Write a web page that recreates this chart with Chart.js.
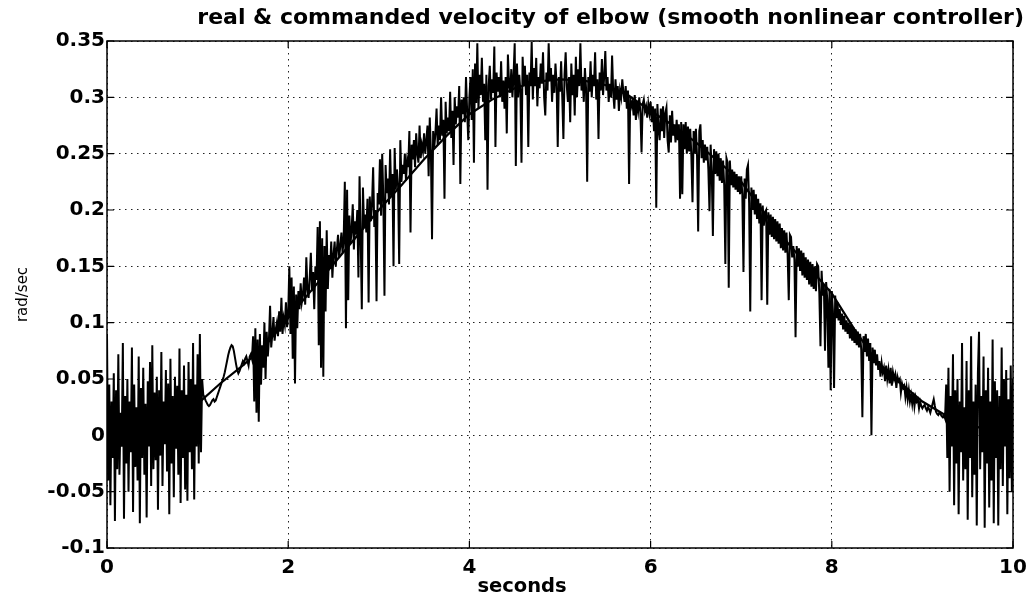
<!DOCTYPE html>
<html>
<head>
<meta charset="utf-8">
<title>real &amp; commanded velocity of elbow</title>
<script src="https://cdn.jsdelivr.net/npm/chart.js@4.4.1/dist/chart.umd.min.js"></script>
<style>
    html, body { margin: 0; padding: 0; background: #fff; }
    #velocityChart { display: block; }
</style>
</head>
<body>
<canvas id="velocityChart" width="1032" height="601"></canvas>
<script>
// commanded velocity (smooth curve), one value every 0.25 s
const cmdStep = 0.25;
const commanded = [
    0.000, 0.002, 0.006, 0.014, 0.028, 0.046, 0.062, 0.080, 0.104, 0.128,
    0.152, 0.176, 0.200, 0.222, 0.245, 0.266, 0.285, 0.298, 0.308, 0.314,
    0.316, 0.315, 0.311, 0.302, 0.288, 0.275, 0.260, 0.243, 0.225, 0.198,
    0.172, 0.149, 0.126, 0.094, 0.065, 0.047, 0.030, 0.018, 0.010, 0.004,
    0.000
];

// measured velocity of the elbow, one value every 0.0125 s (40 per block = 0.5 s)
const realStep = 0.0125;
const real = [
    // 0.0 - 0.5
    0.090, -0.040, 0.045, -0.062, 0.030, -0.020, 0.055, -0.076, 0.040, -0.030,
    0.072, -0.035, 0.020, -0.010, 0.082, -0.074, 0.035, -0.025, 0.050, -0.050,
    0.030, -0.015, 0.078, -0.068, 0.045, -0.028, 0.025, -0.040, 0.070, -0.078,
    0.042, -0.020, 0.060, -0.035, 0.028, -0.073, 0.048, -0.010, 0.065, -0.045,
    // 0.5 - 1.0
    0.080, -0.030, 0.038, -0.022, 0.052, -0.066, 0.040, -0.018, 0.074, -0.045,
    0.030, -0.008, 0.058, -0.032, 0.046, -0.070, 0.068, -0.025, 0.035, -0.055,
    0.052, -0.012, 0.044, -0.035, 0.077, -0.060, 0.040, -0.020, 0.062, -0.048,
    0.036, -0.058, 0.065, -0.015, 0.050, -0.030, 0.082, -0.057, 0.045, -0.010,
    // 1.0 - 1.5
    0.072, -0.025, 0.090, -0.015, 0.050, 0.036, 0.034, 0.031, 0.029, 0.027,
    0.026, 0.027, 0.029, 0.031, 0.032, 0.030, 0.031, 0.034, 0.037, 0.040,
    0.043, 0.046, 0.049, 0.052, 0.056, 0.061, 0.066, 0.071, 0.075, 0.078,
    0.080, 0.079, 0.075, 0.069, 0.063, 0.058, 0.055, 0.057, 0.060, 0.063,
    // 1.5 - 2.0
    0.066, 0.064, 0.068, 0.070, 0.066, 0.062, 0.070, 0.072, 0.068, 0.088,
    0.030, 0.095, 0.020, 0.085, 0.012, 0.090, 0.045, 0.080, 0.060, 0.100,
    0.050, 0.092, 0.070, 0.085, 0.115, 0.078, 0.090, 0.105, 0.084, 0.094,
    0.100, 0.088, 0.110, 0.092, 0.122, 0.090, 0.104, 0.098, 0.118, 0.096,
    // 2.0 - 2.5
    0.108, 0.150, 0.090, 0.140, 0.068, 0.132, 0.046, 0.125, 0.095, 0.128,
    0.112, 0.135, 0.118, 0.125, 0.140, 0.116, 0.158, 0.130, 0.122, 0.140,
    0.162, 0.128, 0.145, 0.112, 0.150, 0.138, 0.185, 0.080, 0.190, 0.060,
    0.175, 0.052, 0.168, 0.110, 0.182, 0.130, 0.160, 0.148, 0.172, 0.140,
    // 2.5 - 3.0
    0.160, 0.172, 0.150, 0.165, 0.178, 0.158, 0.168, 0.180, 0.162, 0.175,
    0.225, 0.095, 0.218, 0.120, 0.195, 0.170, 0.182, 0.205, 0.165, 0.190,
    0.178, 0.200, 0.140, 0.230, 0.176, 0.112, 0.220, 0.185, 0.196, 0.180,
    0.210, 0.118, 0.212, 0.190, 0.205, 0.238, 0.185, 0.200, 0.119, 0.215,
    // 3.0 - 3.5
    0.205, 0.245, 0.195, 0.250, 0.210, 0.124, 0.240, 0.215, 0.228, 0.205,
    0.254, 0.212, 0.232, 0.150, 0.255, 0.218, 0.236, 0.222, 0.152, 0.262,
    0.225, 0.240, 0.232, 0.250, 0.226, 0.244, 0.238, 0.270, 0.180, 0.258,
    0.245, 0.262, 0.238, 0.268, 0.250, 0.242, 0.275, 0.246, 0.258, 0.252,
    // 3.5 - 4.0
    0.268, 0.250, 0.262, 0.275, 0.230, 0.282, 0.252, 0.174, 0.270, 0.256,
    0.268, 0.290, 0.258, 0.275, 0.262, 0.300, 0.266, 0.280, 0.210, 0.296,
    0.268, 0.282, 0.270, 0.305, 0.264, 0.288, 0.240, 0.300, 0.276, 0.292,
    0.282, 0.310, 0.223, 0.298, 0.285, 0.300, 0.278, 0.318, 0.288, 0.262,
    // 4.0 - 4.5
    0.300, 0.318, 0.280, 0.325, 0.242, 0.330, 0.295, 0.348, 0.290, 0.320,
    0.302, 0.335, 0.296, 0.312, 0.262, 0.320, 0.218, 0.310, 0.328, 0.298,
    0.316, 0.304, 0.345, 0.256, 0.322, 0.305, 0.318, 0.300, 0.332, 0.296,
    0.315, 0.290, 0.318, 0.268, 0.338, 0.312, 0.304, 0.325, 0.300, 0.320,
    // 4.5 - 5.0
    0.348, 0.239, 0.330, 0.300, 0.320, 0.306, 0.242, 0.336, 0.310, 0.328,
    0.302, 0.320, 0.256, 0.322, 0.310, 0.349, 0.298, 0.326, 0.310, 0.335,
    0.292, 0.318, 0.308, 0.330, 0.312, 0.340, 0.300, 0.284, 0.322, 0.306,
    0.348, 0.315, 0.326, 0.296, 0.320, 0.304, 0.330, 0.312, 0.256, 0.318,
    // 5.0 - 5.5
    0.305, 0.332, 0.300, 0.263, 0.320, 0.340, 0.310, 0.296, 0.318, 0.278,
    0.330, 0.302, 0.320, 0.284, 0.336, 0.300, 0.325, 0.310, 0.348, 0.306,
    0.318, 0.296, 0.326, 0.308, 0.225, 0.318, 0.305, 0.332, 0.300, 0.320,
    0.310, 0.340, 0.298, 0.316, 0.263, 0.322, 0.306, 0.334, 0.302, 0.318,
    // 5.5 - 6.0
    0.341, 0.306, 0.318, 0.296, 0.312, 0.300, 0.337, 0.304, 0.290, 0.316,
    0.298, 0.310, 0.288, 0.306, 0.300, 0.316, 0.304, 0.296, 0.310, 0.290,
    0.306, 0.223, 0.300, 0.292, 0.296, 0.284, 0.302, 0.280, 0.296, 0.288,
    0.300, 0.286, 0.251, 0.294, 0.298, 0.288, 0.292, 0.282, 0.294, 0.286,
    // 6.0 - 6.5
    0.296, 0.278, 0.292, 0.270, 0.290, 0.202, 0.294, 0.272, 0.262, 0.290,
    0.270, 0.292, 0.264, 0.286, 0.291, 0.262, 0.251, 0.284, 0.260, 0.288,
    0.266, 0.276, 0.260, 0.280, 0.262, 0.276, 0.210, 0.278, 0.214, 0.276,
    0.254, 0.278, 0.250, 0.274, 0.252, 0.272, 0.248, 0.207, 0.270, 0.250,
    // 6.5 - 7.0
    0.272, 0.248, 0.181, 0.270, 0.276, 0.246, 0.262, 0.242, 0.258, 0.244,
    0.256, 0.236, 0.199, 0.258, 0.234, 0.177, 0.254, 0.232, 0.252, 0.230,
    0.250, 0.226, 0.246, 0.224, 0.244, 0.222, 0.152, 0.246, 0.242, 0.131,
    0.244, 0.222, 0.236, 0.220, 0.234, 0.218, 0.232, 0.216, 0.230, 0.214,
    // 7.0 - 7.5
    0.230, 0.214, 0.145, 0.228, 0.210, 0.236, 0.240, 0.206, 0.110, 0.220,
    0.200, 0.218, 0.196, 0.214, 0.192, 0.210, 0.188, 0.206, 0.120, 0.204,
    0.186, 0.198, 0.200, 0.116, 0.198, 0.178, 0.196, 0.176, 0.194, 0.174,
    0.192, 0.172, 0.190, 0.170, 0.188, 0.166, 0.184, 0.164, 0.182, 0.162,
    // 7.5 - 8.0
    0.180, 0.160, 0.120, 0.178, 0.176, 0.158, 0.168, 0.156, 0.087, 0.168,
    0.150, 0.166, 0.146, 0.164, 0.142, 0.162, 0.140, 0.158, 0.138, 0.156,
    0.134, 0.154, 0.132, 0.152, 0.130, 0.150, 0.128, 0.152, 0.150, 0.126,
    0.079, 0.146, 0.124, 0.134, 0.075, 0.136, 0.120, 0.060, 0.130, 0.040,
    // 8.0 - 8.5
    0.128, 0.110, 0.042, 0.124, 0.104, 0.118, 0.102, 0.112, 0.098, 0.108,
    0.094, 0.106, 0.092, 0.102, 0.090, 0.100, 0.086, 0.098, 0.084, 0.096,
    0.082, 0.094, 0.080, 0.092, 0.078, 0.090, 0.076, 0.016, 0.088, 0.074,
    0.090, 0.070, 0.086, 0.066, 0.082, 0.000, 0.078, 0.064, 0.076, 0.062,
    // 8.5 - 9.0
    0.072, 0.058, 0.066, 0.052, 0.064, 0.056, 0.060, 0.048, 0.062, 0.050,
    0.058, 0.046, 0.060, 0.044, 0.056, 0.050, 0.054, 0.042, 0.052, 0.048,
    0.050, 0.038, 0.046, 0.042, 0.044, 0.034, 0.042, 0.032, 0.040, 0.030,
    0.036, 0.028, 0.038, 0.026, 0.034, 0.030, 0.032, 0.024, 0.030, 0.026,
    // 9.0 - 9.5
    0.024, 0.026, 0.027, 0.024, 0.022, 0.025, 0.023, 0.020, 0.024, 0.028,
    0.032, 0.026, 0.021, 0.019, 0.018, 0.020, 0.019, 0.017, 0.016, 0.018,
    0.015, 0.045, -0.020, 0.060, -0.050, 0.035, -0.010, 0.072, -0.062, 0.040,
    -0.025, 0.050, -0.070, 0.030, -0.015, 0.082, -0.040, 0.025, -0.030, 0.066,
    // 9.5 - 10.0
    -0.075, 0.040, -0.020, 0.088, -0.055, 0.030, -0.035, 0.045, -0.080, 0.055,
    0.092, -0.030, 0.035, -0.015, 0.070, -0.082, 0.040, -0.025, 0.060, -0.064,
    0.030, -0.040, 0.085, -0.078, 0.048, -0.020, 0.040, -0.080, 0.035, -0.030,
    0.078, -0.045, 0.050, -0.010, 0.058, -0.070, 0.032, -0.038, 0.062, -0.050,
    0.050
];

const titleText = "real & commanded velocity of elbow (smooth nonlinear controller)";
const xLabel = "seconds";
const yLabel = "rad/sec";

const xMin = 0, xMax = 10, xStep = 2;
const yMin = -0.1, yMax = 0.35, yStep = 0.05;

const tickFont = { family: "DejaVu Sans", weight: "bold", size: 20 };

function toPoints(values, step) {
    return values.map((v, i) => ({ x: +(i * step).toFixed(4), y: v }));
}

// box round the plot, MATLAB style inner tick marks, and the x label
const framePlugin = {
    id: "frame",
    afterDatasetsDraw(chart) {
        const { ctx, chartArea: a, scales } = chart;
        ctx.save();
        ctx.strokeStyle = "#000";
        ctx.lineWidth = 1.5;
        ctx.strokeRect(a.left, a.top, a.right - a.left, a.bottom - a.top);

        ctx.lineWidth = 1.2;
        ctx.beginPath();
        scales.x.ticks.forEach(t => {
            const px = scales.x.getPixelForValue(t.value);
            ctx.moveTo(px, a.bottom); ctx.lineTo(px, a.bottom - 7);
            ctx.moveTo(px, a.top); ctx.lineTo(px, a.top + 7);
        });
        scales.y.ticks.forEach(t => {
            const py = scales.y.getPixelForValue(t.value);
            ctx.moveTo(a.left, py); ctx.lineTo(a.left + 7, py);
            ctx.moveTo(a.right, py); ctx.lineTo(a.right - 7, py);
        });
        ctx.stroke();

        ctx.fillStyle = "#000";
        ctx.font = 'bold 19.5px "DejaVu Sans"';
        ctx.textAlign = "center";
        ctx.textBaseline = "middle";
        ctx.fillText(xLabel, (a.left + a.right) / 2 - 38, 587);
        ctx.restore();
    }
};

new Chart(document.getElementById("velocityChart"), {
    type: "line",
    data: {
        datasets: [
            {
                label: "commanded",
                data: toPoints(commanded, cmdStep),
                borderColor: "#000",
                borderWidth: 2.2,
                pointRadius: 0,
                tension: 0
            },
            {
                label: "real",
                data: toPoints(real, realStep),
                borderColor: "#000",
                borderWidth: 2,
                pointRadius: 0,
                tension: 0
            }
        ]
    },
    options: {
        responsive: false,
        animation: false,
        devicePixelRatio: 1,
        layout: { padding: { left: 0, right: 8, top: 0, bottom: 0 } },
        plugins: {
            legend: { display: false },
            tooltip: { enabled: false },
            title: {
                display: true,
                text: titleText,
                align: "end",
                color: "#000",
                font: { family: "DejaVu Sans", weight: "bold", size: 22 },
                padding: { top: 5, bottom: 9.6 }
            }
        },
        scales: {
            x: {
                type: "linear",
                min: xMin,
                max: xMax,
                afterFit(s) { s.height = 53; s.paddingLeft = 0; s.paddingRight = 19; },
                ticks: { stepSize: xStep, color: "#000", font: tickFont, padding: 8, maxRotation: 0 },
                grid: { color: "#222", lineWidth: 1, drawTicks: false },
                border: { display: false, dash: [1.5, 4.5] }
            },
            y: {
                min: yMin,
                max: yMax,
                afterFit(s) { s.width = 107; },
                ticks: {
                    stepSize: yStep,
                    color: "#000",
                    font: tickFont,
                    padding: 2,
                    callback: v => String(Math.round(v * 100) / 100)
                },
                grid: { color: "#222", lineWidth: 1, drawTicks: false },
                border: { display: false, dash: [1.5, 4.5] },
                title: {
                    display: true,
                    text: yLabel,
                    color: "#000",
                    font: { family: "DejaVu Sans", size: 15 },
                    padding: { top: 14, bottom: 0 }
                }
            }
        }
    },
    plugins: [framePlugin]
});
</script>
</body>
</html>
